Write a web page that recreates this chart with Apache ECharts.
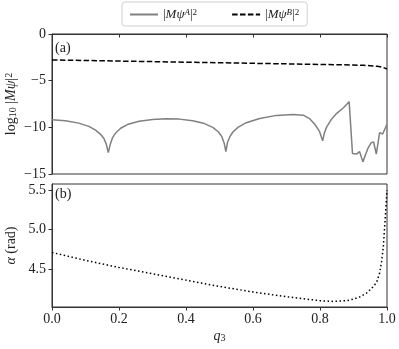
<!DOCTYPE html>
<html>
<head>
<meta charset="utf-8">
<script src="https://cdn.jsdelivr.net/npm/echarts@6/dist/echarts.min.js"></script>
<style>
  html, body { margin: 0; padding: 0; background: #fff; }
  #main { width: 399px; height: 349px; }
</style>
</head>
<body>
<div id="main"></div>
<script>
// |M psi^A|^2 (log10), grey solid
const qA = [0, 0.04, 0.08, 0.11, 0.13, 0.145, 0.155, 0.162, 0.168, 0.174, 0.181, 0.19, 0.205, 0.225, 0.26, 0.3, 0.34, 0.38, 0.42, 0.455, 0.48, 0.497, 0.507, 0.514, 0.519, 0.524, 0.531, 0.54, 0.555, 0.58, 0.62, 0.67, 0.72, 0.75, 0.77, 0.785, 0.798, 0.808, 0.813, 0.82, 0.835, 0.85, 0.87, 0.887, 0.897, 0.91, 0.918, 0.928, 0.943, 0.953, 0.96, 0.968, 0.978, 0.987, 1.0]
const valA = [-9.2, -9.3, -9.55, -9.9, -10.3, -10.75, -11.2, -11.8, -12.7, -11.8, -11.1, -10.6, -10.1, -9.7, -9.35, -9.15, -9.08, -9.12, -9.3, -9.6, -10.0, -10.5, -11.0, -11.7, -12.6, -11.6, -11.0, -10.5, -10.0, -9.5, -9.05, -8.72, -8.62, -8.7, -9.1, -9.7, -10.4, -11.45, -10.6, -9.95, -9.1, -8.5, -7.9, -7.25, -12.8, -12.85, -12.6, -13.7, -12.25, -11.64, -11.57, -12.86, -10.57, -10.71, -9.68]

// |M psi^B|^2 (log10), black dashed
const qB = [0, 0.1, 0.2, 0.3, 0.4, 0.5, 0.6, 0.7, 0.8, 0.85, 0.9, 0.93, 0.95, 0.97, 0.98, 0.99, 1.0]
const valB = [-2.78, -2.84, -2.9, -2.96, -3.02, -3.08, -3.14, -3.2, -3.26, -3.29, -3.33, -3.36, -3.4, -3.46, -3.52, -3.6, -3.75]

// alpha (rad), black dotted
const qC = [0, 0.1, 0.2, 0.3, 0.4, 0.5, 0.6, 0.7, 0.75, 0.8, 0.84, 0.88, 0.9, 0.92, 0.94, 0.955, 0.969, 0.978, 0.984, 0.989, 0.994, 0.997, 1.0]
const valC = [4.71, 4.61, 4.52, 4.44, 4.36, 4.28, 4.21, 4.15, 4.125, 4.10, 4.09, 4.1, 4.12, 4.15, 4.2, 4.26, 4.33, 4.45, 4.6, 4.78, 5.1, 5.3, 5.5]

const alphaTicks = [4.5, 5.0, 5.5]

const zip = (xs, ys) => xs.map((x, i) => [x, ys[i]])
const minus = v => (v < 0 ? '\u2212' + (-v) : String(v))

const font = '"Liberation Serif", serif'
const ink = '#222'
const tickColor = '#333'
const fs = 14
const rich = {
  n: { fontFamily: font, fontSize: fs, color: ink },
  i: { fontFamily: font, fontSize: fs, fontStyle: 'italic', color: ink },
  supn: { fontFamily: font, fontSize: 10, color: ink, verticalAlign: 'top', lineHeight: 10 },
  sub: { fontFamily: font, fontSize: 10, color: ink, verticalAlign: 'bottom', lineHeight: 10 },
  // legend
  ln: { fontFamily: font, fontSize: 13, color: ink },
  li: { fontFamily: font, fontSize: 13, fontStyle: 'italic', color: ink },
  lsup: { fontFamily: font, fontSize: 9, fontStyle: 'italic', color: ink, verticalAlign: 'top', lineHeight: 9 },
  lsupn: { fontFamily: font, fontSize: 9, color: ink, verticalAlign: 'top', lineHeight: 9 }
}

const chart = echarts.init(document.getElementById('main'))

const baseX = {
  type: 'value', min: 0, max: 1, interval: 0.2,
  axisLine: { show: true, lineStyle: { color: tickColor, width: 1 } },
  axisTick: { show: true, length: 3.5, lineStyle: { color: tickColor } },
  splitLine: { show: false }
}
const baseY = {
  type: 'value',
  axisLine: { show: true, lineStyle: { color: tickColor, width: 1 } },
  axisTick: { show: true, length: 3.5, lineStyle: { color: tickColor } },
  splitLine: { show: false },
  nameMoveOverlap: false,
  axisLabel: { fontFamily: font, fontSize: fs, color: ink, margin: 6 }
}

chart.setOption({
  animation: false,
  backgroundColor: '#fff',
  legend: {
    top: 2, left: 122,
    padding: [6, 8, 5, 7],
    itemGap: 34, itemWidth: 28, itemHeight: 10,
    borderColor: '#d0d0d0', borderWidth: 1, borderRadius: 3,
    itemStyle: { opacity: 0 },
    textStyle: { rich: rich },
    formatter: name => name === 'A'
      ? '{ln||}{li|Mψ}{lsup|A}{ln||}{lsupn|2}'
      : '{ln||}{li|Mψ}{lsup|B}{ln||}{lsupn|2}',
    data: ['A', 'B']
  },
  grid: [
    { left: 52, right: 12, top: 34, height: 140, show: true, borderColor: tickColor, borderWidth: 1, outerBoundsMode: 'none' },
    { left: 52, right: 12, top: 184, height: 123, show: true, borderColor: tickColor, borderWidth: 1, outerBoundsMode: 'none' }
  ],
  xAxis: [
    Object.assign({}, baseX, { gridIndex: 0, axisLabel: { show: false } }),
    Object.assign({}, baseX, {
      gridIndex: 1,
      axisLabel: { fontFamily: font, fontSize: fs, color: ink, margin: 5, formatter: v => v.toFixed(1) },
      name: '{i|q}{sub|3}', nameLocation: 'middle', nameGap: 22,
      nameTextStyle: { rich: rich }
    })
  ],
  yAxis: [
    Object.assign({}, baseY, {
      gridIndex: 0, min: -15, max: 0, interval: 5,
      axisLabel: Object.assign({}, baseY.axisLabel, { formatter: minus }),
      name: '{n|log}{sub|10}{n| |}{i|Mψ}{n||}{supn|2}', nameLocation: 'middle', nameGap: 34, nameRotate: 90,
      nameTextStyle: { rich: rich }
    }),
    Object.assign({}, baseY, {
      gridIndex: 1, min: 4.02, max: 5.576,
      axisTick: { show: true, length: 3.5, lineStyle: { color: tickColor }, customValues: alphaTicks },
      axisLabel: Object.assign({}, baseY.axisLabel, { customValues: alphaTicks, formatter: v => v.toFixed(1) }),
      name: '{i|α}{n| (rad)}', nameLocation: 'middle', nameGap: 34, nameRotate: 90,
      nameTextStyle: { rich: rich }
    })
  ],
  graphic: [
    { type: 'text', left: 55, top: 41, style: { text: '(a)', fontFamily: font, fontSize: fs, fill: ink } },
    { type: 'text', left: 55, top: 187, style: { text: '(b)', fontFamily: font, fontSize: fs, fill: ink } }
  ],
  series: [
    {
      name: 'A', type: 'line', xAxisIndex: 0, yAxisIndex: 0, symbol: 'none',
      lineStyle: { color: '#808080', width: 1.5 }, itemStyle: { color: '#808080' },
      data: zip(qA, valA)
    },
    {
      name: 'B', type: 'line', xAxisIndex: 0, yAxisIndex: 0, symbol: 'none',
      lineStyle: { color: '#000', width: 1.5, type: [5.5, 2.4] }, itemStyle: { color: '#000' },
      data: zip(qB, valB)
    },
    {
      name: 'alpha', type: 'line', xAxisIndex: 1, yAxisIndex: 1, symbol: 'none',
      lineStyle: { color: '#000', width: 1.5, type: [1.5, 2.5] },
      data: zip(qC, valC)
    }
  ]
})
</script>
</body>
</html>
